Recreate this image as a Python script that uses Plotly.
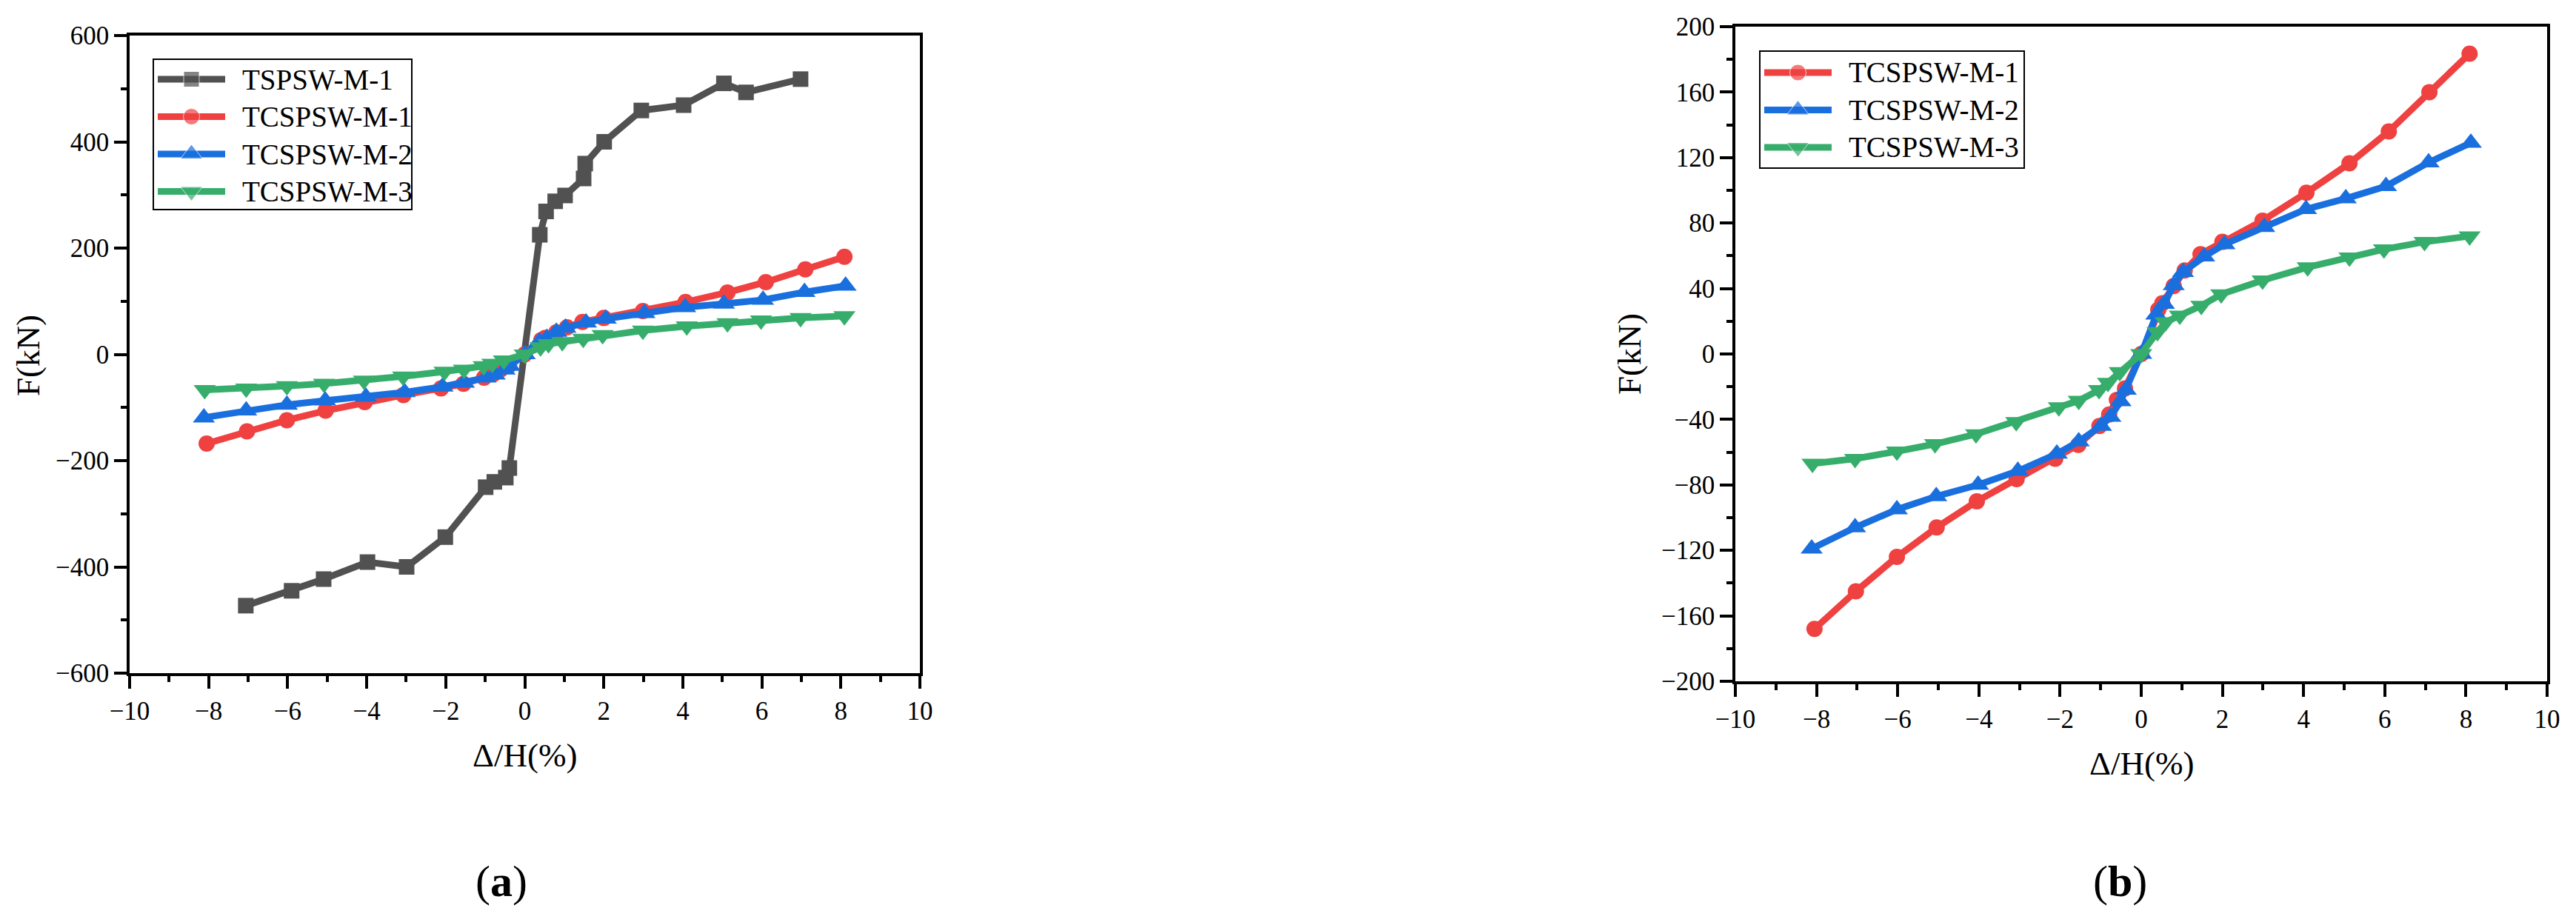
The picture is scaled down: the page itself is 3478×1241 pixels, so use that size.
import plotly.graph_objects as go

# story drift (%) and lateral force (kN)
drift_tspsw = [-7.06, -5.9, -5.09, -3.98, -2.99, -2.01, -0.99, -0.77, -0.48, -0.39,
               0.38, 0.54, 0.77, 1.02, 1.49, 1.53, 2.01, 2.95, 4.02, 5.04, 5.6, 6.98]
force_tspsw = [-473, -445, -423, -391, -400, -344, -250, -240, -232, -214,
               225, 269, 288, 299, 331, 359, 400, 459, 469, 510, 493, 518]

drift_m1 = [-8.05, -7.03, -6.02, -5.04, -4.05, -3.07, -2.12, -1.55, -1.03, -0.79, -0.6, -0.4,
            0, 0.42, 0.52, 0.8, 1.07, 1.46, 2.0, 2.99, 4.07, 5.13, 6.1, 7.1, 8.09]
force_m1 = [-168, -145, -124, -106, -90, -76.5, -64, -55.5, -44, -37, -28, -21,
            0, 27, 31, 41.5, 51, 61, 68.5, 81.5, 98.5, 116.5, 136, 160, 183.5]

drift_m2 = [-8.12, -7.05, -6.02, -5.05, -4.02, -3.04, -2.08, -1.54, -0.99, -0.76, -0.51, -0.38,
            0, 0.37, 0.56, 0.8, 1.03, 1.55, 2.05, 3.03, 4.06, 5.04, 6.03, 7.08, 8.12]
force_m2 = [-119, -106, -95, -87, -80, -71.5, -61, -53.5, -44, -38.5, -29, -22,
            0, 24, 30.5, 42, 50, 59.5, 67, 77.5, 88.5, 95, 102.5, 117, 129]

drift_m3 = [-8.1, -7.05, -6.02, -5.08, -4.07, -3.08, -2.03, -1.54, -1.04, -0.82, -0.53,
            0, 0.4, 0.6, 0.95, 1.48, 1.97, 2.99, 4.1, 5.13, 5.98, 6.98, 8.09]
force_m3 = [-67, -64, -59.5, -55, -49, -41.5, -32.5, -28.5, -22, -17.5, -11,
            0, 13.5, 19.5, 23.5, 29.5, 36.5, 45, 53, 59, 64, 68.5, 72]

x_ticks = [-10, -8, -6, -4, -2, 0, 2, 4, 6, 8, 10]
y_ticks_a = [-600, -400, -200, 0, 200, 400, 600]
y_ticks_b = [-200, -160, -120, -80, -40, 0, 40, 80, 120, 160, 200]

W, H = 3478, 1241
FONT = '"Liberation Serif", "Times New Roman", serif'
colors = {'TSPSW-M-1': '#515151', 'TCSPSW-M-1': '#F04141',
          'TCSPSW-M-2': '#1A6FDF', 'TCSPSW-M-3': '#37AD6B'}
symbols = {'TSPSW-M-1': 'square', 'TCSPSW-M-1': 'circle',
           'TCSPSW-M-2': 'triangle-up', 'TCSPSW-M-3': 'triangle-down'}
sizes = {'TSPSW-M-1': 21, 'TCSPSW-M-1': 22, 'TCSPSW-M-2': 26, 'TCSPSW-M-3': 26}
LINE_W = 9


def curve(name, x, y, xa, ya):
    return go.Scatter(
        x=x, y=y, name=name, mode='lines+markers',
        xaxis=xa, yaxis=ya, showlegend=False, hoverinfo='x+y+name',
        line=dict(color=colors[name], width=LINE_W),
        marker=dict(symbol=symbols[name], size=sizes[name], color=colors[name]),
    )


fig = go.Figure()
fig.add_trace(curve('TSPSW-M-1', drift_tspsw, force_tspsw, 'x', 'y'))
fig.add_trace(curve('TCSPSW-M-1', drift_m1, force_m1, 'x', 'y'))
fig.add_trace(curve('TCSPSW-M-2', drift_m2, force_m2, 'x', 'y'))
fig.add_trace(curve('TCSPSW-M-3', drift_m3, force_m3, 'x', 'y'))
fig.add_trace(curve('TCSPSW-M-1', drift_m1, force_m1, 'x2', 'y2'))
fig.add_trace(curve('TCSPSW-M-2', drift_m2, force_m2, 'x2', 'y2'))
fig.add_trace(curve('TCSPSW-M-3', drift_m3, force_m3, 'x2', 'y2'))

axis_style = dict(
    showline=True, linecolor='black', linewidth=3.5, mirror=True,
    ticks='outside', ticklen=17, tickwidth=3.5, tickcolor='black',
    showgrid=False, zeroline=False, automargin=False,
    tickfont=dict(family=FONT, size=35, color='black'),
)


def px_x(v):
    return v / W


def px_y(v):
    return 1 - v / H


def minor(step):
    return dict(ticks='outside', ticklen=8, tickwidth=3.5, tickcolor='black', dtick=step)


fig.update_layout(
    width=W, height=H,
    margin=dict(l=0, r=0, t=0, b=0),
    paper_bgcolor='white', plot_bgcolor='rgba(0,0,0,0)',
    showlegend=False,
    xaxis=dict(domain=[px_x(175), px_x(1242)], range=[-10, 10], tickvals=x_ticks,
               minor=minor(1), anchor='y', **axis_style),
    yaxis=dict(domain=[px_y(909), px_y(48)], range=[-600, 600], tickvals=y_ticks_a,
               minor=minor(100), anchor='x', **axis_style),
    xaxis2=dict(domain=[px_x(2343), px_x(3439)], range=[-10, 10], tickvals=x_ticks,
                minor=minor(1), anchor='y2', **axis_style),
    yaxis2=dict(domain=[px_y(920), px_y(36)], range=[-200, 200], tickvals=y_ticks_b,
                minor=minor(20), anchor='x2', **axis_style),
    # pixel overlay used only to place the legend keys
    xaxis3=dict(domain=[0, 1], range=[0, W], visible=False, fixedrange=True, anchor='y3'),
    yaxis3=dict(domain=[0, 1], range=[H, 0], visible=False, fixedrange=True, anchor='x3'),
)


def add_legend(names, left, top, right, bottom, row0, step):
    fig.add_shape(type='rect', xref='paper', yref='paper',
                  x0=px_x(left), x1=px_x(right), y0=px_y(bottom), y1=px_y(top),
                  line=dict(color='black', width=2), fillcolor='rgba(0,0,0,0)', layer='above')
    for i, name in enumerate(names):
        yr = row0 + i * step
        x0, x1 = left + 6, left + 97
        fig.add_trace(go.Scatter(
            x=[x0, (x0 + x1) / 2, x1], y=[yr, yr, yr], xaxis='x3', yaxis='y3',
            mode='lines+markers', showlegend=False, hoverinfo='skip',
            line=dict(color=colors[name], width=LINE_W),
            marker=dict(symbol=symbols[name], color=colors[name],
                        size=[0, sizes[name], 0]),
        ))
        fig.add_annotation(xref='paper', yref='paper', showarrow=False,
                           x=px_x(left + 118), y=px_y(yr), xanchor='left', yanchor='middle',
                           text=name, font=dict(family=FONT, size=39, color='black'))


add_legend(['TSPSW-M-1', 'TCSPSW-M-1', 'TCSPSW-M-2', 'TCSPSW-M-3'],
           207, 80, 556, 283, 107, 50.5)
add_legend(['TCSPSW-M-1', 'TCSPSW-M-2', 'TCSPSW-M-3'],
           2376, 69, 2733, 227, 98, 50.5)

title_font = dict(family=FONT, size=45, color='black')
label_font = dict(family=FONT, size=60, color='black')
annotations = [
    dict(text='Δ/H(%)', x=px_x(708), y=px_y(1020), font=title_font),
    dict(text='F(kN)', x=px_x(38), y=px_y(480), font=title_font, textangle=-90),
    dict(text='Δ/H(%)', x=px_x(2891), y=px_y(1031), font=title_font),
    dict(text='F(kN)', x=px_x(2200), y=px_y(478), font=title_font, textangle=-90),
    dict(text='(<b>a</b>)', x=px_x(677), y=px_y(1190), font=label_font),
    dict(text='(<b>b</b>)', x=px_x(2862), y=px_y(1190), font=label_font),
]
for a in annotations:
    fig.add_annotation(xref='paper', yref='paper', showarrow=False,
                       xanchor='center', yanchor='middle', **a)

# drop the default page margin so the figure sits at the window corner
fig.write_html("out.html", config={'displayModeBar': False},
               post_script="document.body.style.margin = '0';")
